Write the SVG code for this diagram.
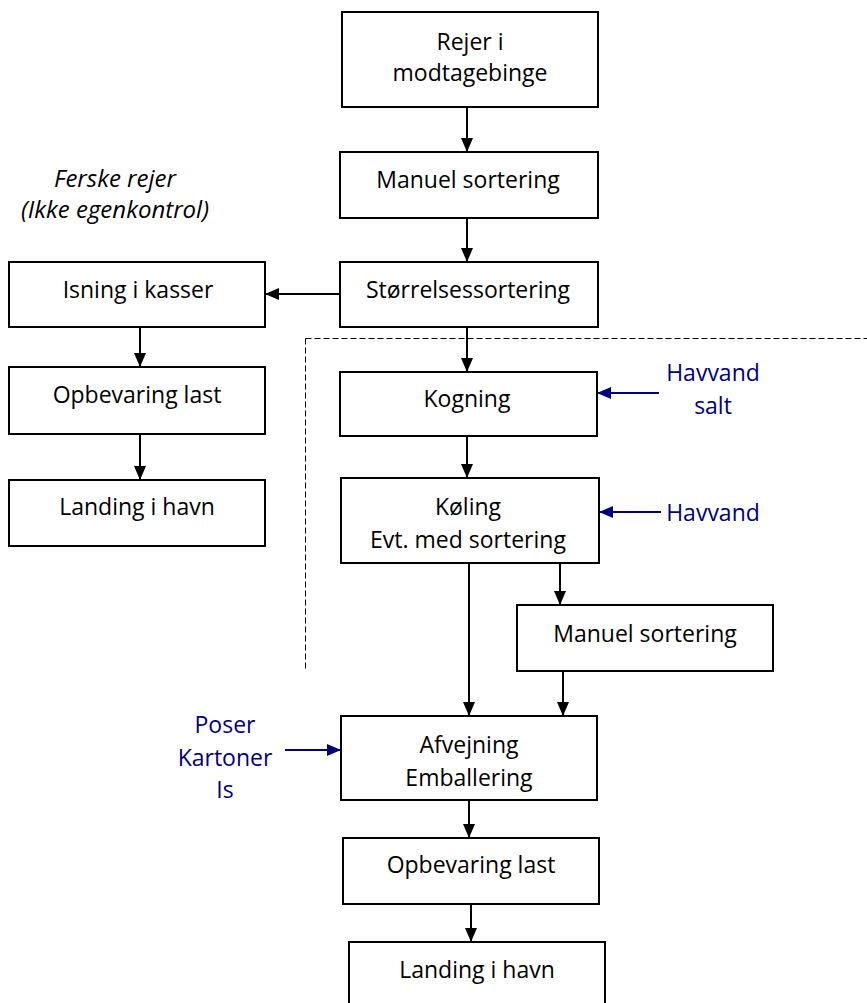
<svg xmlns="http://www.w3.org/2000/svg" width="867" height="1003" viewBox="0 0 867 1003">
<style>
.box{fill:#fff;stroke:#000;stroke-width:2}
.t{font-family:"Open Sans","Noto Sans",sans-serif;font-size:23px;fill:#000;text-anchor:middle}
.b{fill:#000080}
.i{font-style:italic;font-size:24px}
.c{stroke:#000;stroke-width:2;fill:none}
.cb{stroke:#000080;stroke-width:2;fill:none}
.d{stroke:#000;stroke-width:1;fill:none;stroke-dasharray:6,3}
</style>
<defs>
<marker id="ah" viewBox="0 0 14 12" refX="14" refY="6" markerWidth="14" markerHeight="12" markerUnits="userSpaceOnUse" orient="auto"><path d="M0,0L14,6L0,12z" fill="#000"/></marker>
<marker id="ahb" viewBox="0 0 14 12" refX="14" refY="6" markerWidth="14" markerHeight="12" markerUnits="userSpaceOnUse" orient="auto"><path d="M0,0L14,6L0,12z" fill="#000080"/></marker>
</defs>
<g id="connectors">
<line class="d" x1="305.5" y1="338.5" x2="867" y2="338.5"/>
<line class="d" x1="305.5" y1="338.5" x2="305.5" y2="670"/>
<line class="c" x1="467" y1="107" x2="467" y2="152" marker-end="url(#ah)"/>
<line class="c" x1="467" y1="218" x2="467" y2="262" marker-end="url(#ah)"/>
<line class="c" x1="340" y1="294" x2="265" y2="294" marker-end="url(#ah)"/>
<line class="c" x1="140" y1="327" x2="140" y2="367" marker-end="url(#ah)"/>
<line class="c" x1="140" y1="434" x2="140" y2="480" marker-end="url(#ah)"/>
<line class="c" x1="467" y1="327" x2="467" y2="372" marker-end="url(#ah)"/>
<line class="c" x1="467" y1="436" x2="467" y2="478" marker-end="url(#ah)"/>
<line class="cb" x1="659" y1="393" x2="597" y2="393" marker-end="url(#ahb)"/>
<line class="cb" x1="661" y1="512" x2="599" y2="512" marker-end="url(#ahb)"/>
<line class="c" x1="560" y1="563" x2="560" y2="605" marker-end="url(#ah)"/>
<line class="c" x1="469" y1="563" x2="469" y2="716" marker-end="url(#ah)"/>
<line class="c" x1="563" y1="671" x2="563" y2="716" marker-end="url(#ah)"/>
<line class="cb" x1="285" y1="750" x2="341" y2="750" marker-end="url(#ahb)"/>
<line class="c" x1="469" y1="800" x2="469" y2="838" marker-end="url(#ah)"/>
<line class="c" x1="471" y1="904" x2="471" y2="942" marker-end="url(#ah)"/>
</g>
<g id="n-rejer"><rect class="box" x="342" y="12" width="256" height="95"/><text class="t" x="470" y="50">Rejer i</text><text class="t" x="470" y="81">modtagebinge</text></g>
<g id="n-manuel1"><rect class="box" x="340" y="152" width="258" height="66"/><text class="t" x="468" y="188">Manuel sortering</text></g>
<g id="n-stoerrelse"><rect class="box" x="340" y="262" width="258" height="65"/><text class="t" x="468" y="298">Størrelsessortering</text></g>
<g id="n-ferske"><text class="t i" x="115" y="187">Ferske rejer</text><text class="t i" x="115" y="218">(Ikke egenkontrol)</text></g>
<g id="n-isning"><rect class="box" x="9" y="262" width="256" height="65"/><text class="t" x="138" y="298">Isning i kasser</text></g>
<g id="n-opbev1"><rect class="box" x="9" y="367" width="256" height="67"/><text class="t" x="137" y="403">Opbevaring last</text></g>
<g id="n-landing1"><rect class="box" x="9" y="480" width="256" height="66"/><text class="t" x="137" y="515">Landing i havn</text></g>
<g id="n-kogning"><rect class="box" x="340" y="372" width="257" height="64"/><text class="t" x="467" y="407">Kogning</text></g>
<g id="n-havvandsalt"><text class="t b" x="713" y="381">Havvand</text><text class="t b" x="713" y="414">salt</text></g>
<g id="n-koeling"><rect class="box" x="341" y="478" width="258" height="85"/><text class="t" x="468" y="515">Køling</text><text class="t" x="468" y="548">Evt. med sortering</text></g>
<g id="n-havvand"><text class="t b" x="713" y="521">Havvand</text></g>
<g id="n-manuel2"><rect class="box" x="517" y="605" width="256" height="66"/><text class="t" x="645" y="642">Manuel sortering</text></g>
<g id="n-poser"><text class="t b" x="225" y="733">Poser</text><text class="t b" x="225" y="766">Kartoner</text><text class="t b" x="225" y="798">Is</text></g>
<g id="n-afvejning"><rect class="box" x="341" y="716" width="256" height="84"/><text class="t" x="469" y="753">Afvejning</text><text class="t" x="469" y="786">Emballering</text></g>
<g id="n-opbev2"><rect class="box" x="343" y="838" width="256" height="66"/><text class="t" x="471" y="873">Opbevaring last</text></g>
<g id="n-landing2"><rect class="box" x="349" y="942" width="256" height="70"/><text class="t" x="477" y="978">Landing i havn</text></g>
</svg>
